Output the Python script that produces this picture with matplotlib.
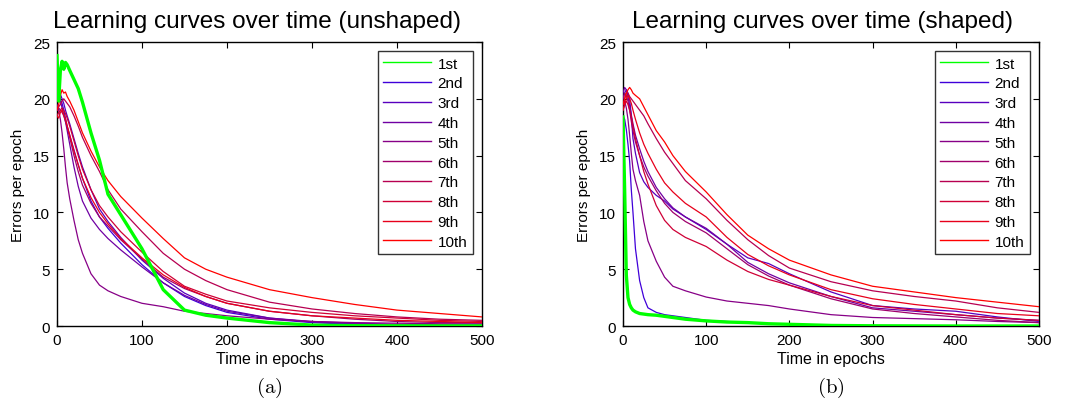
import matplotlib
matplotlib.use("Agg")
import matplotlib.pyplot as plt
from matplotlib.lines import Line2D

plt.rcParams['font.family'] = ['Liberation Sans', 'DejaVu Sans']
plt.rcParams['mathtext.fontset'] = 'cm'

# Epochs at which the error counts are recorded
epochs = [0, 2, 4, 6, 8, 10, 12, 15, 20, 25, 30, 40, 50, 60, 75, 100,
          125, 150, 175, 200, 250, 300, 350, 400, 450, 500]

run_labels = ['1st', '2nd', '3rd', '4th', '5th', '6th', '7th', '8th', '9th', '10th']

# Errors per epoch, unshaped training (one list per run)
unshaped_1st = [23.8, 19.8, 22.5, 23.3, 22.6, 23.2, 23.0, 22.5, 21.7, 20.9, 19.7, 17.0, 14.6,
                11.6, 9.8, 6.8, 3.2, 1.4, 0.95, 0.7, 0.3, 0.08, 0.03, 0.02, 0.01, 0.01]
unshaped_2nd = [20.8, 20.5, 20.0, 19.6, 19.0, 18.3, 17.6, 16.8, 15.5, 14.2, 13.0, 11.0, 9.6,
                8.6, 7.3, 5.4, 3.8, 2.6, 1.8, 1.2, 0.6, 0.3, 0.15, 0.1, 0.05, 0.05]
unshaped_3rd = [21.0, 20.8, 20.4, 20.0, 19.6, 19.0, 18.5, 17.8, 16.5, 15.2, 14.0, 12.0, 10.3,
                9.2, 7.8, 5.8, 4.2, 2.9, 2.0, 1.4, 0.7, 0.35, 0.2, 0.1, 0.08, 0.05]
unshaped_4th = [20.5, 20.3, 19.8, 19.2, 18.6, 18.0, 17.2, 16.0, 14.0, 12.3, 11.0, 9.5, 8.5,
                7.7, 6.7, 5.2, 3.8, 2.7, 1.9, 1.3, 0.7, 0.4, 0.25, 0.15, 0.1, 0.1]
unshaped_5th = [19.5, 19.0, 18.2, 17.0, 15.6, 14.0, 12.6, 11.2, 9.3, 7.6, 6.4, 4.6, 3.6,
                3.1, 2.6, 2.0, 1.7, 1.3, 1.1, 0.9, 0.6, 0.4, 0.3, 0.25, 0.2, 0.2]
unshaped_6th = [19.0, 19.2, 19.0, 18.8, 18.5, 18.0, 17.5, 16.6, 15.0, 13.6, 12.4, 10.8, 9.6,
                8.8, 7.6, 5.9, 4.3, 3.3, 2.6, 2.0, 1.3, 0.9, 0.6, 0.4, 0.3, 0.3]
unshaped_7th = [19.0, 19.3, 19.5, 19.8, 20.0, 19.8, 19.6, 19.3, 18.5, 17.6, 16.6, 15.0, 13.6,
                12.0, 10.3, 8.3, 6.4, 5.0, 4.0, 3.2, 2.1, 1.5, 1.1, 0.8, 0.6, 0.5]
unshaped_8th = [18.5, 18.8, 19.0, 19.2, 19.0, 18.7, 18.3, 17.6, 16.3, 15.0, 13.8, 12.0, 10.6,
                9.6, 8.3, 6.5, 4.8, 3.5, 2.8, 2.2, 1.6, 1.2, 0.9, 0.7, 0.5, 0.4]
unshaped_9th = [18.5, 18.3, 18.8, 19.0, 18.6, 18.2, 17.6, 16.8, 15.4, 14.2, 13.0, 11.3, 10.0,
                9.0, 7.7, 6.0, 4.5, 3.4, 2.6, 2.0, 1.3, 0.9, 0.7, 0.5, 0.4, 0.3]
unshaped_10th = [19.0, 19.5, 20.3, 20.8, 20.5, 20.6, 20.2, 19.8, 19.0, 18.0, 17.0, 15.4, 14.0,
                 12.8, 11.4, 9.5, 7.7, 6.0, 5.0, 4.3, 3.2, 2.5, 1.9, 1.4, 1.1, 0.8]

# Errors per epoch, shaped training (one list per run)
shaped_1st = [18.4, 12.0, 4.5, 2.5, 1.9, 1.6, 1.4, 1.25, 1.1, 1.05, 1.0, 0.95, 0.85,
              0.75, 0.6, 0.45, 0.35, 0.3, 0.2, 0.15, 0.05, 0.02, 0.01, 0.0, 0.0, 0.0]
shaped_2nd = [18.5, 18.2, 17.3, 16.0, 14.5, 12.0, 10.0, 6.8, 4.0, 2.5, 1.6, 1.2, 1.0,
              0.9, 0.75, 0.5, 0.4, 0.3, 0.2, 0.15, 0.05, 0.03, 0.02, 0.01, 0.0, 0.0]
shaped_3rd = [20.0, 20.5, 20.8, 20.5, 20.0, 18.5, 16.5, 15.2, 13.5, 12.7, 12.2, 11.5, 11.0,
              10.3, 9.6, 8.5, 7.2, 6.0, 5.5, 4.6, 3.0, 1.8, 1.5, 1.3, 0.8, 0.4]
shaped_4th = [20.5, 21.0, 20.8, 20.2, 19.4, 18.6, 17.8, 16.8, 15.6, 14.5, 13.6, 12.2, 11.2,
              10.4, 9.6, 8.6, 7.2, 5.6, 4.6, 3.8, 2.6, 1.6, 1.3, 1.0, 0.7, 0.5]
shaped_5th = [19.5, 19.8, 19.2, 18.2, 16.8, 15.2, 13.8, 12.8, 11.5, 9.2, 7.5, 5.7, 4.3,
              3.5, 3.1, 2.55, 2.2, 2.0, 1.8, 1.5, 1.0, 0.75, 0.65, 0.55, 0.4, 0.3]
shaped_6th = [20.0, 20.5, 20.3, 19.8, 19.0, 18.0, 17.2, 16.2, 15.0, 14.0, 13.2, 11.9, 10.8,
              10.0, 9.2, 8.2, 6.8, 5.4, 4.4, 3.6, 2.4, 1.5, 1.1, 0.8, 0.5, 0.3]
shaped_7th = [19.5, 20.0, 20.5, 20.5, 20.2, 20.0, 19.8, 19.5, 19.0, 18.5, 17.8, 16.5, 15.3,
              14.3, 12.8, 11.2, 9.3, 7.6, 6.2, 5.1, 3.9, 3.1, 2.6, 2.2, 1.6, 1.2]
shaped_8th = [19.0, 19.5, 19.8, 19.5, 19.0, 18.4, 17.6, 16.5, 15.0, 13.6, 12.5, 10.6, 9.3,
              8.5, 7.8, 7.0, 5.8, 4.8, 4.1, 3.6, 2.6, 1.8, 1.4, 1.0, 0.7, 0.5]
shaped_9th = [19.0, 19.5, 20.0, 20.3, 20.0, 19.6, 19.0, 18.2, 17.0, 16.0, 15.2, 13.8, 12.6,
              11.8, 10.8, 9.6, 7.8, 6.3, 5.3, 4.5, 3.2, 2.4, 1.9, 1.5, 1.1, 0.9]
shaped_10th = [19.5, 20.0, 20.5, 20.8, 21.0, 20.8, 20.5, 20.3, 20.0, 19.3, 18.6, 17.2, 16.2,
               15.0, 13.6, 11.8, 9.8, 8.0, 6.8, 5.8, 4.5, 3.5, 3.0, 2.5, 2.1, 1.7]

unshaped_runs = [unshaped_1st, unshaped_2nd, unshaped_3rd, unshaped_4th, unshaped_5th,
                 unshaped_6th, unshaped_7th, unshaped_8th, unshaped_9th, unshaped_10th]
shaped_runs = [shaped_1st, shaped_2nd, shaped_3rd, shaped_4th, shaped_5th,
               shaped_6th, shaped_7th, shaped_8th, shaped_9th, shaped_10th]

# First run in green, later runs fade from blue to red
run_colors = [(0.0, 1.0, 0.0)]
for k in range(9):
    t = k / 8.0
    run_colors.append((0.25 + 0.75 * t, 0.0, 0.85 * (1.0 - t)))

fig = plt.figure(figsize=(10.73, 4.10), dpi=100)
ax_left = fig.add_axes([0.0531, 0.2024, 0.3961, 0.6927])
ax_right = fig.add_axes([0.5806, 0.2024, 0.3877, 0.6927])

panels = [(ax_left, unshaped_runs, 'Learning curves over time (unshaped)', '(a)', 0.47),
          (ax_right, shaped_runs, 'Learning curves over time (shaped)', '(b)', 0.48)]

for ax, runs, title, caption, title_x in panels:
    for i, vals in enumerate(runs):
        if i == 0:
            ax.plot(epochs, vals, color=run_colors[i], lw=2.4, zorder=5)
        else:
            ax.plot(epochs, vals, color=run_colors[i], lw=0.9, zorder=3)
    ax.set_xlim(0, 500)
    ax.set_ylim(0, 25)
    ax.set_xticks([0, 100, 200, 300, 400, 500])
    ax.set_yticks([0, 5, 10, 15, 20, 25])
    ax.tick_params(direction='in', length=4, width=0.8, top=True, right=True,
                   labelsize=11, pad=5)
    for sp in ax.spines.values():
        sp.set_linewidth(1.0)
    ax.set_xlabel('Time in epochs', fontsize=11.5, labelpad=3)
    ax.set_ylabel('Errors per epoch', fontsize=11, labelpad=6)
    ax.set_title(title, fontsize=17.5, pad=11, x=title_x)
    handles = [Line2D([0], [0], color=c, lw=1.0) for c in run_colors]
    leg = ax.legend(handles, run_labels, loc='upper right', fontsize=11,
                    frameon=True, fancybox=False, edgecolor='black',
                    handlelength=3.1, labelspacing=0.38, borderpad=0.35,
                    borderaxespad=0.6, handletextpad=0.45)
    leg.get_frame().set_linewidth(1.0)
    ax.text(0.5, -0.215, r'$\mathrm{' + caption + '}$', transform=ax.transAxes,
            ha='center', va='center', fontsize=15)

fig.savefig('out.png', dpi=100)
